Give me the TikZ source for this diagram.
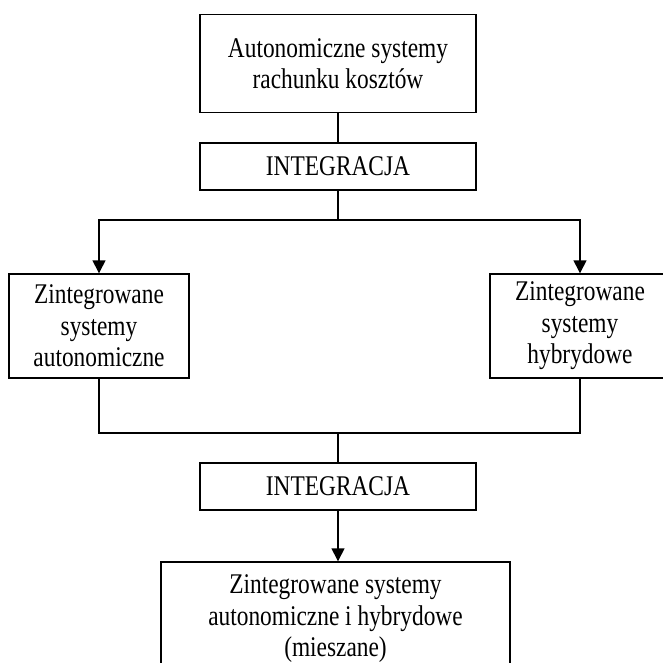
\documentclass[tikz,border=0pt]{standalone}
\usepackage{fontspec}
\setmainfont{Liberation Serif}[FakeStretch=0.82]
\usetikzlibrary{arrows.meta, positioning}

\tikzset{
  box/.style={draw, line width=1.4pt, align=center, inner sep=0pt,
              font=\fontsize{28.5}{31.5}\selectfont},
  link/.style={line width=1.4pt},
  arrowlink/.style={link, -{Triangle[length=13pt, width=13pt]}}
}

\begin{document}
\begin{tikzpicture}[x=1pt, y=-1pt]
    \useasboundingbox (0,0) rectangle (662,663);
    % boxes
    \node[box, minimum width=276pt, minimum height=98pt] (zrodlo) at (338,63.7)
        {Autonomiczne systemy\\rachunku kosztów};
    \node[box, minimum width=276pt, minimum height=47pt] (integ1) at (338,166.5) {INTEGRACJA};
    \node[box, minimum width=180pt, minimum height=104pt] (auton) at (99,326)
        {Zintegrowane\\systemy\\autonomiczne};
    \node[box, minimum width=180pt, minimum height=104pt] (hybr) at (580,326)
        {Zintegrowane\\systemy\\hybrydowe};
    \node[box, minimum width=276pt, minimum height=47pt] (integ2) at (338,486.5) {INTEGRACJA};
    \node[box, minimum width=349pt, minimum height=114pt] (miesz) at (335.5,619)
        {Zintegrowane systemy\\autonomiczne i hybrydowe\\(mieszane)};
    % connectors
    \coordinate (rozw) at (338,220);
    \coordinate (zbieg) at (338,433);
    \draw[link] (zrodlo) -- (integ1);
    \draw[link] (integ1) -- (rozw);
    \draw[arrowlink] (rozw) -| (auton);
    \draw[arrowlink] (rozw) -| (hybr);
    \draw[link] (auton) |- (zbieg) -| (hybr);
    \draw[link] (zbieg) -- (integ2);
    \draw[arrowlink] (integ2) -- (integ2 |- miesz.north);
\end{tikzpicture}
\end{document}
